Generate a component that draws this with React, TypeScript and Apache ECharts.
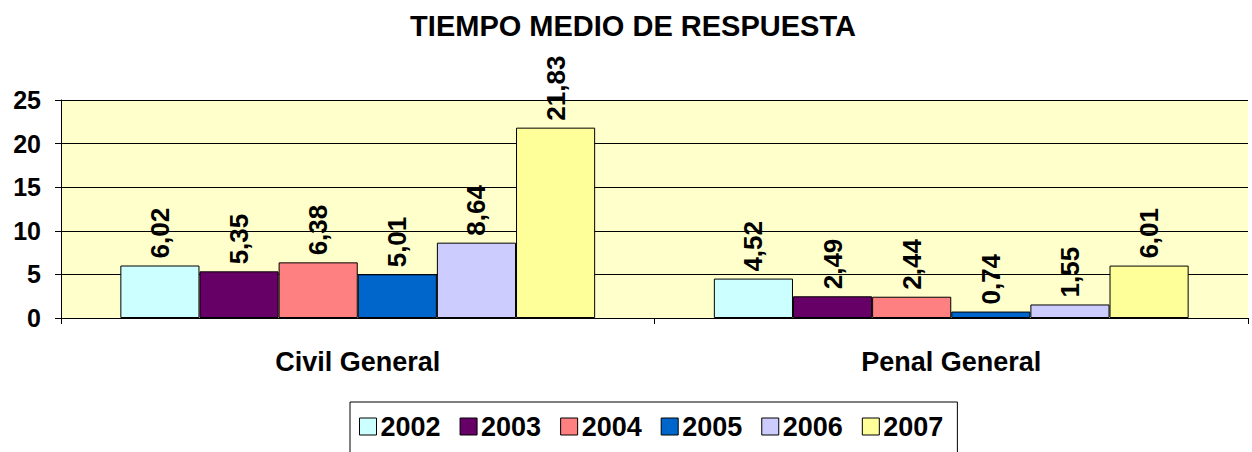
import React, { useEffect, useRef } from "react";
import * as echarts from "echarts";

const categories = ["Civil General", "Penal General"];
const years = ["2002", "2003", "2004", "2005", "2006", "2007"];
const values = [
  [6.02, 4.52],
  [5.35, 2.49],
  [6.38, 2.44],
  [5.01, 0.74],
  [8.64, 1.55],
  [21.83, 6.01],
];
const colors = ["#CCFFFF", "#660066", "#FF8080", "#0066CC", "#CCCCFF", "#FFFF99"];
const yTicks = [0, 5, 10, 15, 20, 25];

const FONT = "'Liberation Sans', Arial, sans-serif";

export default function App() {
  const ref = useRef<HTMLDivElement>(null);
  useEffect(() => {
    document.body.style.margin = "0";
    const chart = echarts.init(ref.current!, undefined, { renderer: "svg" });
    chart.setOption({
      animation: false,
      textStyle: { fontFamily: FONT },
      title: {
        text: "TIEMPO MEDIO DE RESPUESTA",
        left: 628,
        textAlign: "center",
        top: 6,
        textStyle: { fontSize: 29, fontWeight: "bold", color: "#000", fontFamily: FONT },
      },
      legend: {
        data: years,
        left: 350,
        top: 402,
        itemGap: 19,
        itemWidth: 17,
        itemHeight: 17,
        icon: "rect",
        borderColor: "#000",
        borderWidth: 1,
        padding: [11, 14, 30, 9],
        textStyle: { fontSize: 27, fontWeight: "bold", color: "#000", fontFamily: FONT, padding: [0, 0, 0, -1] },
        itemStyle: { borderColor: "#000", borderWidth: 1 },
      },
      grid: {
        left: 61,
        top: 100,
        right: 4,
        height: 218,
        show: true,
        backgroundColor: "#FFFFCC",
        borderWidth: 0,
      },
      xAxis: {
        type: "category",
        data: categories,
        axisLine: { lineStyle: { color: "#000", width: 1 } },
        axisTick: { show: true, alignWithLabel: false, length: 6, lineStyle: { color: "#000" } },
        axisLabel: { fontSize: 27, fontWeight: "bold", color: "#000", margin: 30, fontFamily: FONT },
      },
      yAxis: {
        type: "value",
        min: 0,
        max: 25,
        interval: 5,
        axisLine: { show: true, lineStyle: { color: "#000", width: 1 } },
        axisTick: { show: true, length: 6, lineStyle: { color: "#000" } },
        axisLabel: {
          fontSize: 25,
          fontWeight: "bold",
          color: "#000",
          margin: 20,
          fontFamily: FONT,
          formatter: (v: number) => (yTicks.includes(v) ? String(v) : ""),
        },
        splitLine: {
          show: true,
          lineStyle: { color: "#000", width: 1 },
        },
      },
      series: years.map((y, i) => ({
        name: y,
        type: "bar",
        data: values[i],
        barGap: "0%",
        barCategoryGap: "20%",
        itemStyle: { color: colors[i], borderColor: "#000", borderWidth: 1 },
        label: {
          show: true,
          position: "top",
          rotate: 90,
          align: "left",
          verticalAlign: "middle",
          distance: 7,
          fontSize: 26,
          fontWeight: "bold",
          color: "#000",
          fontFamily: FONT,
          formatter: (p: any) => String(p.value).replace(".", ","),
        },
      })),
    });
    return () => chart.dispose();
  }, []);
  return <div ref={ref} style={{ width: 1252, height: 452 }} />;
}
